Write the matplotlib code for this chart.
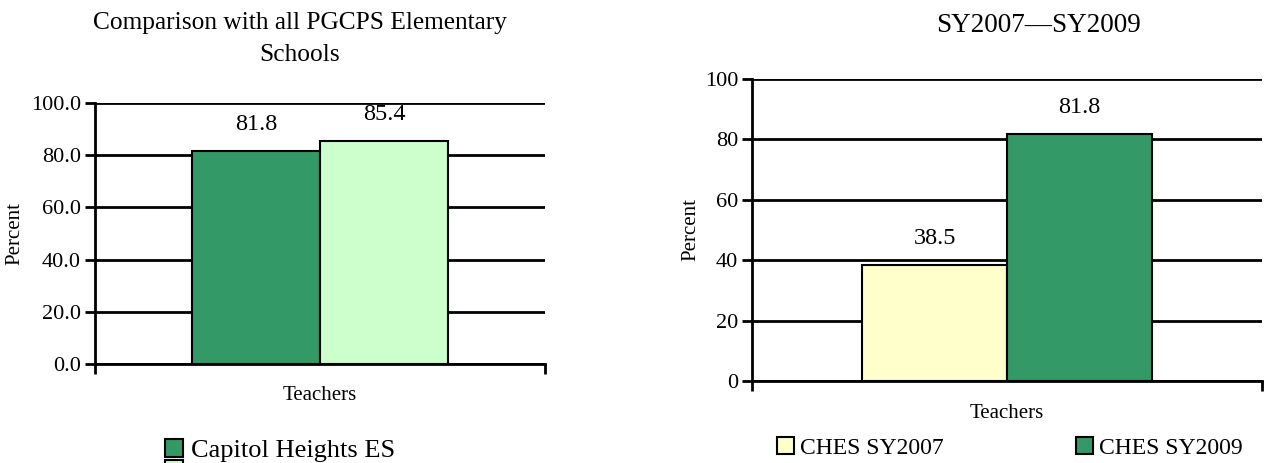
import matplotlib.pyplot as plt
from matplotlib.patches import Patch

plt.rcParams['font.family'] = ['Liberation Serif', 'DejaVu Serif']

# left panel: school vs all elementary schools
left_series = ['Capitol Heights ES', 'All PGCPS Elementary Schools']
left_values = [81.8, 85.4]
left_colors = ['#339966', '#ccffcc']
left_title = 'Comparison with all PGCPS Elementary\nSchools'
left_ticklabels = ['0.0', '20.0', '40.0', '60.0', '80.0', '100.0']

# right panel: SY2007 vs SY2009
right_series = ['CHES SY2007', 'CHES SY2009']
right_values = [38.5, 81.8]
right_colors = ['#ffffcc', '#339966']
right_title = 'SY2007\u2014SY2009'
right_ticklabels = ['0', '20', '40', '60', '80', '100']

category = 'Teachers'
yticks = [0, 20, 40, 60, 80, 100]


def draw_panel(ax, values, colors, labels, ticklabels):
    offsets = [-0.142, 0.142]
    for off, v, c, lab in zip(offsets, values, colors, labels):
        ax.bar(0.5 + off, v, width=0.284, color=c, edgecolor='black',
               linewidth=1.5, zorder=3, label=lab)
        ax.annotate(f'{v:.1f}', (0.5 + off, v), xytext=(0, 19),
                    textcoords='offset points', ha='center', va='center',
                    fontsize=17.5)
    ax.set_xlim(0, 1)
    ax.set_ylim(0, 100)
    ax.set_yticks(yticks)
    ax.set_yticklabels(ticklabels)
    ax.yaxis.grid(True, color='black', linewidth=2)
    ax.set_axisbelow(True)
    ax.spines['top'].set_visible(False)
    ax.spines['right'].set_visible(False)
    ax.spines['left'].set_linewidth(2)
    ax.spines['bottom'].set_linewidth(2)
    ax.set_xticks([0, 1])
    ax.set_xticklabels(['', ''])
    ax.tick_params(axis='x', length=7, width=2, direction='out')
    ax.tick_params(axis='y', length=7, width=2, labelsize=16, pad=3)
    ax.set_ylabel('Percent', fontsize=15)
    ax.set_xlabel(category, fontsize=15)


fig = plt.figure(figsize=[12.65, 4.63], dpi=100)
ax1 = fig.add_axes([0.0751, 0.2138, 0.3557, 0.5637])
ax2 = fig.add_axes([0.5945, 0.1771, 0.4031, 0.6523])

draw_panel(ax1, left_values, left_colors, left_series, left_ticklabels)
draw_panel(ax2, right_values, right_colors, right_series, right_ticklabels)

ax1.yaxis.set_label_coords(-0.156, 0.5)
ax2.yaxis.set_label_coords(-0.102, 0.5)
ax1.xaxis.labelpad = 5
ax2.xaxis.labelpad = 6

fig.text(0.237, 0.915, left_title, ha='center', va='center', fontsize=18.3,
         linespacing=1.58)
fig.text(0.821, 0.946, right_title, ha='center', va='center', fontsize=19.5)

# only the first entry of the left legend fits inside the picture
h1 = [Patch(facecolor=c, edgecolor='black', linewidth=1.5) for c in left_colors]
fig.legend(h1, [left_series[0], ' '], loc='upper left',
           bbox_to_anchor=(0.1304, 0.052), borderaxespad=0, frameon=False,
           fontsize=19, handlelength=0.68, handleheight=0.68,
           handletextpad=0.3, borderpad=0, labelspacing=-0.1)

h2 = [Patch(facecolor=c, edgecolor='black', linewidth=1.5) for c in right_colors]
fig.legend(h2, right_series, loc='upper left', bbox_to_anchor=(0.6142, 0.056),
           borderaxespad=0, ncol=2, frameon=False, fontsize=17,
           handlelength=0.72, handleheight=0.72, handletextpad=0.25,
           borderpad=0, columnspacing=5.6)

fig.savefig('out.png', dpi=100)
